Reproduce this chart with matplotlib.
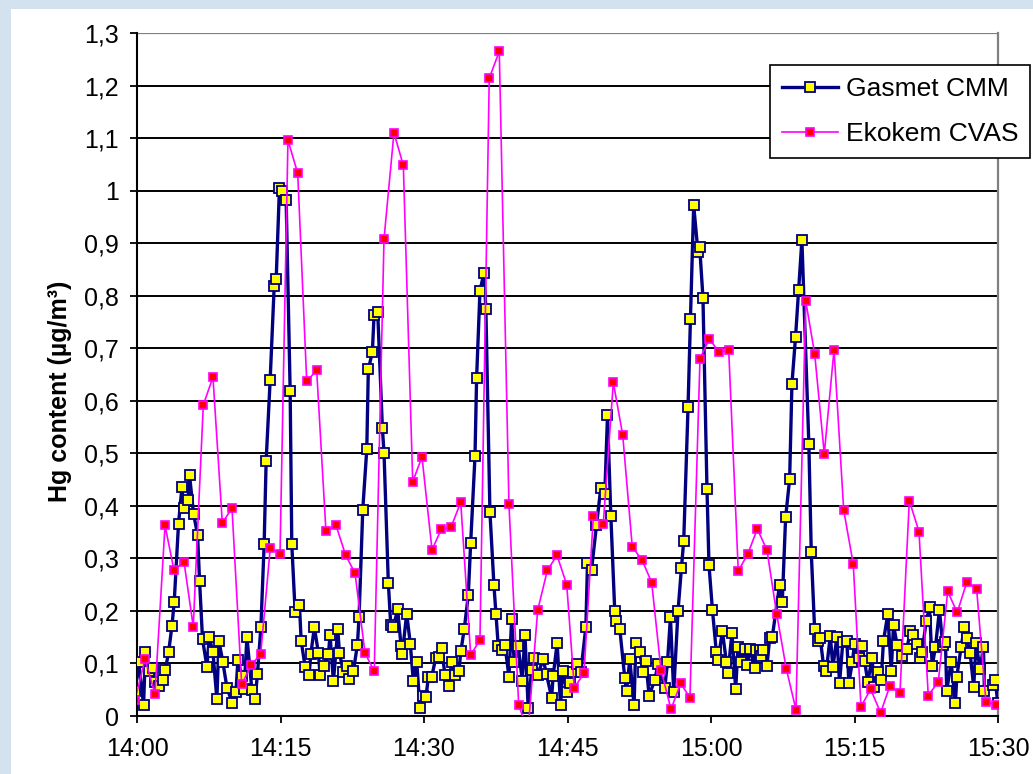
import matplotlib
matplotlib.use("Agg")
from matplotlib import pyplot as plt
from matplotlib.patches import Rectangle

# minutes after 14:00
gasmet_t = [
    -0.18, 0.17, 0.69, 0.87, 1.21, 1.67, 1.91, 2.26, 2.71, 2.96,
    3.30, 3.65, 3.89, 4.34, 4.70, 4.87, 5.33, 5.49, 5.91, 6.33,
    6.54, 6.85, 7.31, 7.55, 7.94, 8.35, 8.56, 8.98, 9.40, 9.95,
    10.34, 10.55, 10.96, 11.20, 11.49, 12.01, 12.35, 12.59, 12.95, 13.29,
    13.50, 13.92, 14.34, 14.55, 14.89, 15.14, 15.59, 16.01, 16.18, 16.53,
    16.98, 17.16, 17.57, 17.99, 18.17, 18.54, 18.96, 19.14, 19.56, 20.01,
    20.18, 20.53, 20.99, 21.16, 21.57, 21.99, 22.20, 22.62, 23.04, 23.21,
    23.60, 24.02, 24.18, 24.60, 24.78, 25.16, 25.65, 25.82, 26.27, 26.52,
    26.79, 27.25, 27.60, 27.73, 28.19, 28.57, 28.88, 29.24, 29.58, 29.93,
    30.21, 30.45, 30.80, 31.22, 31.60, 31.85, 32.19, 32.61, 32.89, 33.24,
    33.65, 33.86, 34.21, 34.63, 34.88, 35.33, 35.50, 35.85, 36.27, 36.47,
    36.89, 37.31, 37.52, 37.76, 38.18, 38.46, 38.88, 39.16, 39.43, 39.85,
    40.27, 40.55, 40.89, 41.25, 41.52, 41.87, 42.46, 42.81, 43.34, 43.50,
    43.92, 44.27, 44.48, 44.96, 45.24, 45.53, 45.95, 46.39, 46.92, 47.09,
    47.51, 48.03, 48.48, 48.90, 49.18, 49.53, 49.94, 50.12, 50.47, 50.99,
    51.17, 51.51, 51.96, 52.14, 52.55, 52.90, 53.18, 53.53, 54.12, 54.46,
    55.17, 55.45, 55.76, 56.10, 56.55, 56.91, 57.15, 57.60, 57.85, 58.19,
    58.64, 58.82, 59.16, 59.58, 59.79, 60.15, 60.56, 60.73, 61.19, 61.61,
    61.77, 62.19, 62.58, 62.82, 63.17, 63.52, 63.80, 64.11, 64.56, 64.67,
    65.08, 65.26, 65.43, 65.85, 66.13, 66.41, 67.17, 67.45, 67.80, 68.22,
    68.46, 68.84, 69.16, 69.50, 70.23, 70.48, 70.83, 71.17, 71.42, 71.77,
    72.05, 72.47, 72.74, 73.16, 73.44, 73.78, 74.20, 74.41, 74.77, 75.00,
    75.45, 75.81, 76.05, 76.39, 76.85, 77.02, 77.44, 77.79, 78.03, 78.48,
    78.84, 79.08, 79.46, 79.98, 80.47, 80.82, 81.09, 81.51, 81.86, 82.07,
    82.49, 82.84, 83.12, 83.46, 83.88, 84.22, 84.51, 84.64, 85.10, 85.55,
    85.69, 86.15, 86.49, 86.73, 87.09, 87.46, 87.71, 88.13, 88.48, 88.58,
    89.45, 89.73, 89.97,
]
gasmet_hg = [
    0.048, 0.102, 0.021, 0.121, 0.086, 0.091, 0.064, 0.057, 0.069, 0.088,
    0.121, 0.171, 0.217, 0.366, 0.436, 0.396, 0.411, 0.459, 0.385, 0.345,
    0.257, 0.146, 0.094, 0.150, 0.121, 0.032, 0.143, 0.102, 0.054, 0.025,
    0.046, 0.106, 0.076, 0.051, 0.150, 0.050, 0.032, 0.080, 0.169, 0.327,
    0.486, 0.640, 0.818, 0.832, 1.005, 0.999, 0.983, 0.618, 0.327, 0.198,
    0.212, 0.143, 0.094, 0.078, 0.118, 0.169, 0.120, 0.078, 0.095, 0.118,
    0.154, 0.066, 0.165, 0.120, 0.084, 0.095, 0.070, 0.085, 0.136, 0.188,
    0.393, 0.508, 0.660, 0.692, 0.763, 0.769, 0.548, 0.501, 0.254, 0.174,
    0.169, 0.203, 0.133, 0.118, 0.195, 0.137, 0.067, 0.103, 0.015, 0.038,
    0.036, 0.074, 0.074, 0.110, 0.112, 0.129, 0.078, 0.057, 0.103, 0.078,
    0.086, 0.124, 0.166, 0.230, 0.330, 0.494, 0.644, 0.809, 0.844, 0.774,
    0.389, 0.249, 0.194, 0.133, 0.126, 0.135, 0.075, 0.184, 0.103, 0.133,
    0.067, 0.155, 0.015, 0.088, 0.110, 0.078, 0.108, 0.079, 0.035, 0.076,
    0.139, 0.020, 0.086, 0.046, 0.063, 0.084, 0.099, 0.083, 0.170, 0.292,
    0.278, 0.363, 0.434, 0.423, 0.572, 0.381, 0.199, 0.181, 0.165, 0.072,
    0.047, 0.108, 0.020, 0.139, 0.121, 0.084, 0.105, 0.039, 0.068, 0.099,
    0.054, 0.102, 0.188, 0.046, 0.199, 0.282, 0.334, 0.588, 0.755, 0.972,
    0.883, 0.892, 0.796, 0.432, 0.287, 0.202, 0.121, 0.106, 0.161, 0.102,
    0.081, 0.158, 0.051, 0.131, 0.102, 0.128, 0.098, 0.128, 0.092, 0.125,
    0.125, 0.115, 0.126, 0.095, 0.148, 0.151, 0.250, 0.217, 0.378, 0.451,
    0.632, 0.722, 0.811, 0.906, 0.517, 0.312, 0.165, 0.142, 0.148, 0.095,
    0.085, 0.153, 0.093, 0.150, 0.063, 0.141, 0.143, 0.063, 0.102, 0.137,
    0.110, 0.133, 0.105, 0.065, 0.110, 0.056, 0.084, 0.069, 0.143, 0.194,
    0.086, 0.173, 0.135, 0.114, 0.127, 0.161, 0.154, 0.137, 0.110, 0.122,
    0.180, 0.207, 0.095, 0.131, 0.202, 0.135, 0.140, 0.048, 0.103, 0.025,
    0.074, 0.132, 0.169, 0.148, 0.119, 0.055, 0.138, 0.089, 0.132, 0.048,
    0.059, 0.069, 0.024,
]

cvas_t = [
    -0.21, 0.84, 1.88, 2.93, 3.87, 4.91, 5.88, 6.93, 7.94, 8.92,
    9.93, 10.94, 11.95, 12.93, 13.93, 14.95, 15.78, 16.80, 17.74, 18.78,
    19.75, 20.80, 21.81, 22.79, 23.83, 24.80, 25.82, 26.86, 27.84, 28.82,
    29.79, 30.84, 31.81, 32.82, 33.84, 34.88, 35.85, 36.82, 37.87, 38.88,
    39.90, 40.87, 41.88, 42.89, 43.90, 44.92, 45.71, 46.72, 47.70, 48.74,
    49.79, 50.77, 51.77, 52.82, 53.80, 54.77, 55.82, 56.83, 57.80, 58.85,
    59.82, 60.87, 61.85, 62.85, 63.86, 64.84, 65.85, 66.86, 67.87, 68.88,
    69.90, 70.84, 71.84, 72.86, 73.87, 74.87, 75.68, 76.69, 77.73, 78.71,
    79.75, 80.73, 81.74, 82.71, 83.76, 84.74, 85.74, 86.76, 87.77, 88.74,
    89.79,
]
cvas_hg = [
    0.030, 0.108, 0.042, 0.363, 0.277, 0.294, 0.170, 0.592, 0.645, 0.367,
    0.396, 0.060, 0.097, 0.118, 0.320, 0.308, 1.096, 1.033, 0.637, 0.658,
    0.352, 0.363, 0.306, 0.272, 0.120, 0.085, 0.908, 1.110, 1.048, 0.446,
    0.493, 0.316, 0.356, 0.359, 0.407, 0.116, 0.145, 1.214, 1.265, 0.403,
    0.021, -0.030, 0.201, 0.277, 0.306, 0.250, 0.054, 0.081, 0.380, 0.366,
    0.635, 0.535, 0.322, 0.296, 0.254, 0.088, 0.013, 0.062, 0.035, 0.680,
    0.718, 0.692, 0.697, 0.276, 0.309, 0.356, 0.316, 0.195, 0.090, 0.012,
    0.790, 0.689, 0.499, 0.697, 0.392, 0.289, 0.018, 0.051, 0.006, 0.058,
    0.043, 0.410, 0.351, 0.039, 0.065, 0.237, 0.197, 0.256, 0.241, 0.027,
    0.021,
]

x_ticks = [0, 15, 30, 45, 60, 75, 90]
x_labels = ["14:00", "14:15", "14:30", "14:45", "15:00", "15:15", "15:30"]
y_ticks = [i / 10 for i in range(14)]
y_labels = ["0", "0,1", "0,2", "0,3", "0,4", "0,5", "0,6", "0,7",
            "0,8", "0,9", "1", "1,1", "1,2", "1,3"]

plt.rcParams["font.family"] = ["Liberation Sans", "DejaVu Sans"]

fig = plt.figure(figsize=(10.33, 7.74), dpi=100)
fig.patch.set_facecolor("#d3e2ee")
# white panel behind the chart, leaving a blue strip on the left and top
panel = Rectangle((11 / 1033, 0), 1, 1 - 9 / 774, transform=fig.transFigure,
                  facecolor="white", edgecolor="none", zorder=-10)
fig.add_artist(panel)

ax = fig.add_axes([137 / 1033, 1 - 716 / 774, (998 - 137) / 1033, (716 - 33) / 774])
ax.set_facecolor("white")

# horizontal grid lines
for y in y_ticks[1:-1]:
    ax.axhline(y, color="black", linewidth=1.4, zorder=1)
ax.axhline(1.3, color="#808080", linewidth=1.6, zorder=1)

ax.plot(gasmet_t, gasmet_hg, color="#000080", linewidth=2.4,
        marker="s", markersize=6.8, markerfacecolor="#ffff00",
        markeredgecolor="#000080", markeredgewidth=1.3, label="Gasmet CMM", zorder=3)
ax.plot(cvas_t, cvas_hg, color="#ff00ff", linewidth=1.2,
        marker="s", markersize=6, markerfacecolor="#ff0000",
        markeredgecolor="#ff00ff", markeredgewidth=1.2, label="Ekokem CVAS", zorder=4)

ax.set_xlim(0, 90)
ax.set_ylim(0, 1.3)
ax.set_xticks(x_ticks)
ax.set_xticklabels(x_labels, fontsize=18)
ax.set_yticks(y_ticks)
ax.set_yticklabels(y_labels, fontsize=18)
ax.tick_params(axis="both", direction="out", length=5, width=1.3, color="black")
ax.tick_params(axis="y", pad=8)
ax.tick_params(axis="x", pad=10)

for side in ["left", "bottom"]:
    ax.spines[side].set_color("black")
    ax.spines[side].set_linewidth(1.5)
ax.spines["top"].set_visible(False)
ax.spines["right"].set_color("#808080")
ax.spines["right"].set_linewidth(1.6)

ax.set_ylabel("Hg content (µg/m³)", fontsize=18, fontweight="bold")
ax.yaxis.set_label_coords(-0.076, 0.475)

leg = ax.legend(loc="upper right", bbox_to_anchor=(1030 / 1033, 1 - 65 / 774),
                bbox_transform=fig.transFigure, borderaxespad=0, fontsize=19,
                fancybox=False, framealpha=1, edgecolor="black", handlelength=2.1,
                handletextpad=0.3, borderpad=0.45, labelspacing=0.8)
leg.get_frame().set_linewidth(1.2)

fig.savefig("out.png", dpi=100, facecolor=fig.get_facecolor())
